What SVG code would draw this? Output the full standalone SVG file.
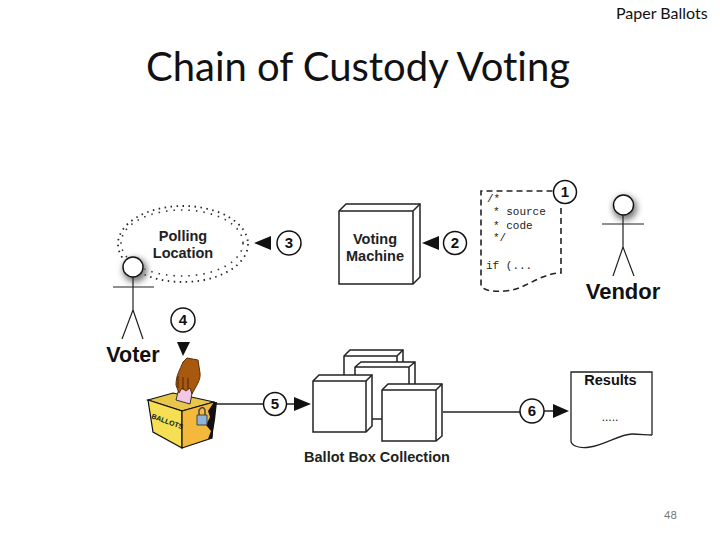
<svg xmlns="http://www.w3.org/2000/svg" width="720" height="540" viewBox="0 0 720 540">
<defs>
<filter id="sh" x="-60%" y="-60%" width="220%" height="220%"><feGaussianBlur stdDeviation="3"/></filter>
</defs>
<style>
.t{font-family:"Liberation Sans",Arial,sans-serif;font-weight:bold;fill:#222}
.c{font-family:Lato,"Open Sans",sans-serif;fill:#111;font-variant-ligatures:none}
.m{font-family:"Liberation Mono",monospace;font-size:11px;fill:#222}
.n{fill:#fff;stroke:#111;stroke-width:1.5}
.num{font-family:"Liberation Sans",Arial,sans-serif;font-weight:bold;font-size:15px;fill:#111;text-anchor:middle}
.l{fill:none;stroke:#222;stroke-width:1.5}
.stick{fill:none;stroke:#222;stroke-width:1.2}
.b{fill:#fff;stroke:#222;stroke-width:1.5}
.e{fill:none;stroke:#222;stroke-width:1.5}
</style>
<rect width="720" height="540" fill="#fff"/>
<text class="c" x="616" y="19" font-size="16">Paper Ballots</text>
<text class="c" x="146" y="81" font-size="40">Chain of Custody Voting</text>
<text class="c" x="664" y="519" font-size="11" style="fill:#777">48</text>

<g id="connectors">
<path class="l" d="M215 404H264"/>
<path class="l" d="M287 404H294"/>
<path d="M294 397L311 404L294 411Z" fill="#111"/>
<path class="l" d="M443 412H520"/>
<path class="l" d="M544 411H553"/>
<path d="M553 404L569 411L553 418Z" fill="#111"/>
<path d="M271 236V250L254 243Z" fill="#111"/>
<path d="M439 236V250L422 243Z" fill="#111"/>
<path d="M177 342H190L183 356Z" fill="#111"/>
</g>

<g id="polling">
<ellipse cx="183" cy="244" rx="65" ry="38" fill="none" stroke="#222" stroke-width="1.800" stroke-dasharray="1.500 4.500"/>
<ellipse cx="182" cy="243" rx="61" ry="33" fill="none" stroke="#333" stroke-width="1.600" stroke-dasharray="1.500 6"/>
<text class="t" x="183" y="241" font-size="14.500" text-anchor="middle">Polling</text>
<text class="t" x="183" y="258" font-size="14.500" text-anchor="middle">Location</text>
</g>

<g id="n3"><circle class="n" cx="289" cy="243" r="12"/><text class="num" x="289" y="248">3</text></g>
<g id="n2"><circle class="n" cx="455" cy="243" r="11.500"/><text class="num" x="455" y="248">2</text></g>
<g id="n1"><circle class="n" cx="565" cy="192" r="11.500"/><text class="num" x="565" y="197">1</text></g>
<g id="n4"><circle class="n" cx="183" cy="320" r="12"/><text class="num" x="183" y="325">4</text></g>
<g id="n5"><circle class="n" cx="275" cy="404" r="11.500"/><text class="num" x="275" y="409">5</text></g>
<g id="n6"><circle class="n" cx="532" cy="411" r="12"/><text class="num" x="532" y="416">6</text></g>

<g id="voter">
<circle cx="135" cy="270" r="12" fill="#777" filter="url(#sh)"/>
<circle cx="133" cy="267" r="10" fill="#fff" stroke="#111" stroke-width="1.400"/>
<path class="stick" d="M113 287H154M133 277V310M133 310L122 339M133 310L143 339"/>
<text class="t" x="133" y="362" font-size="21.500" text-anchor="middle" style="fill:#111">Voter</text>
</g>

<g id="vendor">
<circle cx="625" cy="208" r="12" fill="#777" filter="url(#sh)"/>
<circle cx="623.500" cy="205" r="10" fill="#fff" stroke="#111" stroke-width="1.400"/>
<path class="stick" d="M602 224H644M623 215V247M623 247L613 276M623 247L634 276"/>
<text class="t" x="623" y="299" font-size="22" text-anchor="middle" style="fill:#111">Vendor</text>
</g>

<g id="machine">
<path class="b" d="M339 211L346 204H420V277L413 284H339Z"/>
<path class="e" d="M339 211H413V284M413 211L420 204"/>
<text class="t" x="375" y="244" font-size="14.500" text-anchor="middle">Voting</text>
<text class="t" x="375" y="261" font-size="14.500" text-anchor="middle">Machine</text>
</g>

<g id="source">
<path d="M561 208V273C540 273 525 290 505 291C490 292 481 290 481 284V191H553" fill="none" stroke="#222" stroke-width="1.600" stroke-dasharray="6 4"/>
<text class="m" x="487" y="202">/*</text>
<text class="m" x="493" y="215">* source</text>
<text class="m" x="493" y="229">* code</text>
<text class="m" x="493" y="241">*/</text>
<text class="m" x="486" y="269">if (...</text>
</g>

<g id="collection">
<path class="b" d="M344 390V356L350 350H403V390"/>
<path class="e" d="M344 356H397V390M397 356L403 350"/>
<path d="M355 367L361 362H415V390H355Z" fill="#fff"/>
<path class="e" d="M355 390V367L361 362H415V390M355 367H409V390M409 367L415 362"/>
<path class="b" d="M313 381L319 375H372V426L366 432H313Z"/>
<path class="e" d="M313 381H366V432M366 381L372 375"/>
<path class="b" d="M382 390L388 384H442V436L436 441H382Z"/>
<path class="e" d="M382 390H436V441M436 390L442 384"/>
<path class="l" d="M372 419H382"/>
<text class="t" x="377" y="462" font-size="14.500" text-anchor="middle">Ballot Box Collection</text>
</g>

<g id="results">
<path d="M652 435V372H571V441C571 445 578 449 590 447C605 445 620 434 632 434C640 434 646 435 652 435" fill="none" stroke="#222" stroke-width="1.300"/>
<text class="t" x="610.500" y="385" font-size="14.500" text-anchor="middle" style="fill:#111">Results</text>
<text x="610" y="421" font-family="Liberation Sans,Arial,sans-serif" font-size="12" text-anchor="middle" fill="#222">.....</text>
</g>

<g id="ballotbox">
<path d="M148 400L173 393L214 402L182 411Z" fill="#e8c64a" stroke="#111" stroke-width="1.200"/>
<path d="M148 400L182 411L182 448L153 432Z" fill="#f7df55" stroke="#111" stroke-width="1.200"/>
<path d="M182 411L214 402L212 438L182 448Z" fill="#f3b83c" stroke="#111" stroke-width="1.200"/>
<path d="M214 402L217 402L215 420L212 438L208 439L211 431L206 425L210 417L208 411Z" fill="#111"/>
<path d="M178 392L181 384L194 383L190 404L176 400Z" fill="#f3c6e4" stroke="#333" stroke-width="1"/>
<path d="M176 385C176 375 180 370 183 362L187 358L198 360L200 373C201 380 196 386 192 394L190 388L186 391L182 388L179 393Z" fill="#a8590f" stroke="#5a2f05" stroke-width="1"/>
<path d="M178 376V388M183 377V390M188 378V389" stroke="#4a2604" stroke-width="1" fill="none"/>
<path d="M197 415H207V425H197Z" fill="#8fb3d9" stroke="#444" stroke-width="1"/>
<path d="M199 415V410Q203 405 205 410V415" fill="none" stroke="#444" stroke-width="1.500"/>
<text x="151" y="418" font-family="Liberation Sans,Arial,sans-serif" font-weight="bold" font-size="7" fill="#111" transform="rotate(20 151 418)">BALLOTS</text>
</g>
</svg>
